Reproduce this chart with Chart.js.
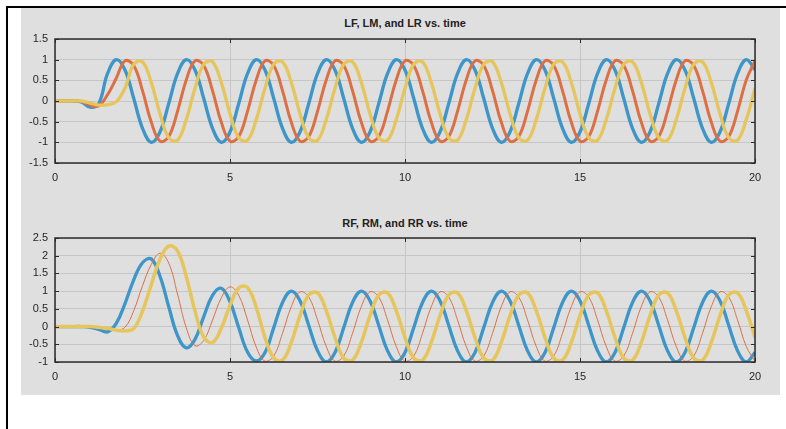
<!DOCTYPE html>
<html>
<head>
<meta charset="utf-8">
<script src="https://cdn.jsdelivr.net/npm/chart.js@4.4.1/dist/chart.umd.min.js"></script>
<style>
  body { margin: 0; background: #fff; width: 786px; height: 429px; overflow: hidden; position: relative; }
  #frame { position: absolute; left: 6px; top: 6px; width: 778px; height: 421px; border-left: 2px solid #000; border-top: 2px solid #000; }
  #panel { position: absolute; left: 21px; top: 8px; width: 759px; height: 387px; background: #dfdfdf; }
  canvas { position: absolute; left: 21px; }
  .title { position: absolute; left: 55px; width: 700px; text-align: center; font: bold 11px "Liberation Sans", Arial, sans-serif; color: #222; line-height: 14px; }
</style>
</head>
<body>
<div id="frame"></div>
<div id="panel"></div>
<div class="title" style="top:16px">LF, LM, and LR vs. time</div>
<canvas id="top-chart" width="759" height="190" style="top:8px"></canvas>
<div class="title" style="top:216px">RF, RM, and RR vs. time</div>
<canvas id="bottom-chart" width="759" height="195" style="top:200px"></canvas>
<script>
// time samples (s)
const time = [
  0, 0.25, 0.5, 0.75, 1, 1.25, 1.5, 1.75, 2, 2.25, 2.5, 2.75, 3, 3.25, 3.5, 3.75,
  4, 4.25, 4.5, 4.75, 5, 5.25, 5.5, 5.75, 6, 6.25, 6.5, 6.75, 7, 7.25, 7.5, 7.75,
  8, 8.25, 8.5, 8.75, 9, 9.25, 9.5, 9.75, 10, 10.25, 10.5, 10.75, 11, 11.25, 11.5, 11.75,
  12, 12.25, 12.5, 12.75, 13, 13.25, 13.5, 13.75, 14, 14.25, 14.5, 14.75, 15, 15.25, 15.5, 15.75,
  16, 16.25, 16.5, 16.75, 17, 17.25, 17.5, 17.75, 18, 18.25, 18.5, 18.75, 19, 19.25, 19.5, 19.75,
  20
];

// left legs
const lf = [
  0, 0, 0, -0.02, -0.15, -0.06,
  0.66, 1.0, 0.75, 0.06, -0.66, -1.0, -0.75, -0.06,
  0.66, 1.0, 0.75, 0.06, -0.66, -1.0, -0.75, -0.06,
  0.66, 1.0, 0.75, 0.06, -0.66, -1.0, -0.75, -0.06,
  0.66, 1.0, 0.75, 0.06, -0.66, -1.0, -0.75, -0.06,
  0.66, 1.0, 0.75, 0.06, -0.66, -1.0, -0.75, -0.06,
  0.66, 1.0, 0.75, 0.06, -0.66, -1.0, -0.75, -0.06,
  0.66, 1.0, 0.75, 0.06, -0.66, -1.0, -0.75, -0.06,
  0.66, 1.0, 0.75, 0.06, -0.66, -1.0, -0.75, -0.06,
  0.66, 1.0, 0.75, 0.06, -0.66, -1.0, -0.75, -0.06,
  0.66, 1.0, 0.75
];
const lm = [
  0, 0, 0, -0.01, -0.1, -0.12,
  0.15, 0.55, 0.97, 0.86, 0.25, -0.51, -0.97, -0.86,
  -0.25, 0.51, 0.97, 0.86, 0.25, -0.51, -0.97, -0.86,
  -0.25, 0.51, 0.97, 0.86, 0.25, -0.51, -0.97, -0.86,
  -0.25, 0.51, 0.97, 0.86, 0.25, -0.51, -0.97, -0.86,
  -0.25, 0.51, 0.97, 0.86, 0.25, -0.51, -0.97, -0.86,
  -0.25, 0.51, 0.97, 0.86, 0.25, -0.51, -0.97, -0.86,
  -0.25, 0.51, 0.97, 0.86, 0.25, -0.51, -0.97, -0.86,
  -0.25, 0.51, 0.97, 0.86, 0.25, -0.51, -0.97, -0.86,
  -0.25, 0.51, 0.97, 0.86, 0.25, -0.51, -0.97, -0.86,
  -0.25, 0.51, 0.97
];
const lr = [
  0, 0, 0, 0, -0.05, -0.1,
  -0.09, -0.02, 0.31, 0.89, 0.95, 0.45, -0.31, -0.89,
  -0.95, -0.45, 0.31, 0.89, 0.95, 0.45, -0.31, -0.89,
  -0.95, -0.45, 0.31, 0.89, 0.95, 0.45, -0.31, -0.89,
  -0.95, -0.45, 0.31, 0.89, 0.95, 0.45, -0.31, -0.89,
  -0.95, -0.45, 0.31, 0.89, 0.95, 0.45, -0.31, -0.89,
  -0.95, -0.45, 0.31, 0.89, 0.95, 0.45, -0.31, -0.89,
  -0.95, -0.45, 0.31, 0.89, 0.95, 0.45, -0.31, -0.89,
  -0.95, -0.45, 0.31, 0.89, 0.95, 0.45, -0.31, -0.89,
  -0.95, -0.45, 0.31, 0.89, 0.95, 0.45, -0.31, -0.89,
  -0.95, -0.45, 0.31
];

// right legs
const rf = [
  0, 0, 0, 0, -0.02, -0.08, -0.15, 0.09,
  0.65, 1.32, 1.8, 1.91, 1.42, 0.56, -0.25, -0.6,
  -0.36, 0.28, 0.88, 1.08, 0.7, -0.03, -0.72, -0.97,
  -0.73, -0.03, 0.68, 1.0, 0.73, 0.03, -0.68, -1.0,
  -0.73, -0.03, 0.68, 1.0, 0.73, 0.03, -0.68, -1.0,
  -0.73, -0.03, 0.68, 1.0, 0.73, 0.03, -0.68, -1.0,
  -0.73, -0.03, 0.68, 1.0, 0.73, 0.03, -0.68, -1.0,
  -0.73, -0.03, 0.68, 1.0, 0.73, 0.03, -0.68, -1.0,
  -0.73, -0.03, 0.68, 1.0, 0.73, 0.03, -0.68, -1.0,
  -0.73, -0.03, 0.68, 1.0, 0.73, 0.03, -0.68, -1.0,
  -0.73
];
const rm = [
  0, 0, 0, 0, -0.01, -0.03, -0.06, -0.1,
  -0.02, 0.45, 1.15, 1.75, 2.07, 1.79, 0.92, -0.03,
  -0.54, -0.39, 0.18, 0.81, 1.12, 0.88, 0.19, -0.58,
  -0.98, -0.83, -0.19, 0.56, 0.98, 0.83, 0.19, -0.56,
  -0.98, -0.83, -0.19, 0.56, 0.98, 0.83, 0.19, -0.56,
  -0.98, -0.83, -0.19, 0.56, 0.98, 0.83, 0.19, -0.56,
  -0.98, -0.83, -0.19, 0.56, 0.98, 0.83, 0.19, -0.56,
  -0.98, -0.83, -0.19, 0.56, 0.98, 0.83, 0.19, -0.56,
  -0.98, -0.83, -0.19, 0.56, 0.98, 0.83, 0.19, -0.56,
  -0.98, -0.83, -0.19, 0.56, 0.98, 0.83, 0.19, -0.56,
  -0.98
];
const rr = [
  0, 0, 0, 0, 0, -0.02, -0.05, -0.1,
  -0.12, -0.06, 0.44, 1.18, 1.9, 2.27, 2.14, 1.41,
  0.44, -0.3, -0.45, -0.05, 0.6, 1.09, 1.1, 0.54,
  -0.31, -0.89, -0.95, -0.45, 0.31, 0.89, 0.95, 0.45,
  -0.31, -0.89, -0.95, -0.45, 0.31, 0.89, 0.95, 0.45,
  -0.31, -0.89, -0.95, -0.45, 0.31, 0.89, 0.95, 0.45,
  -0.31, -0.89, -0.95, -0.45, 0.31, 0.89, 0.95, 0.45,
  -0.31, -0.89, -0.95, -0.45, 0.31, 0.89, 0.95, 0.45,
  -0.31, -0.89, -0.95, -0.45, 0.31, 0.89, 0.95, 0.45,
  -0.31, -0.89, -0.95, -0.45, 0.31, 0.89, 0.95, 0.45,
  -0.31
];

const xTicks = [0, 5, 10, 15, 20];
const topYTicks = [-1.5, -1, -0.5, 0, 0.5, 1, 1.5];
const bottomYTicks = [-1, -0.5, 0, 0.5, 1, 1.5, 2, 2.5];

const BLUE = '#3d95c8';
const ORANGE = '#dc7044';
const YELLOW = '#e5c55c';
const FONT = { family: '"Liberation Sans", Arial, sans-serif', size: 11 };

// axes box + inward tick marks, like the original plot
const boxTicks = {
  id: 'boxTicks',
  afterDatasetsDraw(chart) {
    const { ctx, chartArea: a, scales } = chart;
    const len = 4;
    ctx.save();
    ctx.strokeStyle = '#2b2b2b';
    ctx.lineWidth = 1;
    ctx.beginPath();
    scales.y.ticks.forEach(t => {
      const y = Math.round(scales.y.getPixelForValue(t.value)) + 0.5;
      ctx.moveTo(a.left, y); ctx.lineTo(a.left + len, y);
      ctx.moveTo(a.right, y); ctx.lineTo(a.right - len, y);
    });
    scales.x.ticks.forEach(t => {
      const x = Math.round(scales.x.getPixelForValue(t.value)) + 0.5;
      ctx.moveTo(x, a.top); ctx.lineTo(x, a.top + len);
      ctx.moveTo(x, a.bottom); ctx.lineTo(x, a.bottom - len);
    });
    ctx.stroke();
    ctx.lineWidth = 1.5;
    ctx.strokeRect(a.left, a.top, a.right - a.left, a.bottom - a.top);
    ctx.restore();
  }
};

function makeChart(id, series, yTicks, padTop, xHeight) {
  const datasets = series.map(s => ({
    label: s.label,
    data: time.map((t, i) => ({ x: t, y: s.values[i] })),
    borderColor: s.color,
    borderWidth: s.width,
    order: s.order,
    pointRadius: 0,
    tension: 0.4,
    fill: false
  }));

  return new Chart(document.getElementById(id), {
    type: 'line',
    data: { datasets },
    options: {
      responsive: false,
      animation: false,
      layout: { padding: { top: padTop, right: 25, bottom: 0, left: 0 } },
      plugins: { legend: { display: false }, tooltip: { enabled: false } },
      scales: {
        x: {
          type: 'linear',
          min: 0,
          max: 20,
          afterBuildTicks: s => { s.ticks = xTicks.map(v => ({ value: v })); },
          afterFit: s => { s.height = xHeight; },
          ticks: { font: FONT, color: '#262626', padding: 8, maxRotation: 0, callback: v => String(v) },
          grid: { color: '#c6c6c6', drawTicks: false },
          border: { display: false }
        },
        y: {
          min: yTicks[0],
          max: yTicks[yTicks.length - 1],
          afterBuildTicks: s => { s.ticks = yTicks.map(v => ({ value: v })); },
          afterFit: s => { s.width = 34; },
          ticks: { font: FONT, color: '#262626', padding: 7, callback: v => String(v) },
          grid: { color: '#c6c6c6', drawTicks: false },
          border: { display: false }
        }
      }
    },
    plugins: [boxTicks]
  });
}

makeChart('top-chart', [
  { label: 'LF', values: lf, color: BLUE, width: 3.3, order: 3 },
  { label: 'LM', values: lm, color: ORANGE, width: 3, order: 2 },
  { label: 'LR', values: lr, color: YELLOW, width: 3.3, order: 1 }
], topYTicks, 31, 35);

makeChart('bottom-chart', [
  { label: 'RF', values: rf, color: BLUE, width: 3.3, order: 3 },
  { label: 'RM', values: rm, color: ORANGE, width: 1, order: 2 },
  { label: 'RR', values: rr, color: YELLOW, width: 3.5, order: 1 }
], bottomYTicks, 38, 33);
</script>
</body>
</html>
